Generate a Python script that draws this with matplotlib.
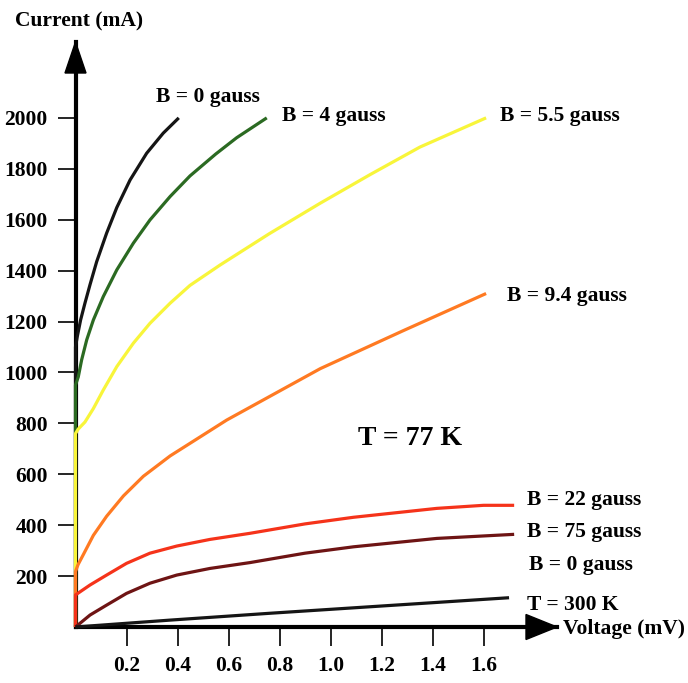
import numpy as np
import matplotlib
matplotlib.use("Agg")
import matplotlib.pyplot as plt
from matplotlib.patches import Polygon

# I-V curves (voltage in mV, current in mA)
black77_v = [0, 0, 0.007, 0.02, 0.037, 0.057, 0.083, 0.122, 0.162, 0.214, 0.279, 0.344, 0.405]
black77_i = [0, 1100, 1141, 1206, 1272, 1345, 1435, 1547, 1648, 1756, 1861, 1940, 2000]

green_v = [0, 0, 0.011, 0.024, 0.044, 0.07, 0.109, 0.162, 0.227, 0.292, 0.371, 0.449, 0.55, 0.632, 0.75]
green_i = [0, 950, 983, 1049, 1128, 1206, 1298, 1403, 1508, 1599, 1691, 1772, 1858, 1922, 2000]

yellow_v = [0, 0, 0.011, 0.037, 0.07, 0.109, 0.162, 0.227, 0.292, 0.371, 0.449, 0.567, 0.76, 0.96,
            1.155, 1.35, 1.61]
yellow_i = [0, 760, 778, 805, 858, 931, 1023, 1115, 1193, 1272, 1342, 1422, 1545, 1665,
            1777, 1885, 2000]

orange_v = [0, 0, 0.01, 0.031, 0.07, 0.122, 0.188, 0.266, 0.371, 0.475, 0.593, 0.96, 1.285, 1.61]
orange_i = [0, 218, 245, 285, 360, 435, 515, 592, 672, 738, 813, 1015, 1164, 1310]

red_v = [0, 0, 0.057, 0.122, 0.2, 0.292, 0.397, 0.527, 0.684, 0.9, 1.09, 1.417, 1.6, 1.72]
red_i = [0, 126, 165, 204, 250, 290, 318, 344, 368, 405, 431, 466, 478, 478]

dred_v = [0, 0.057, 0.122, 0.2, 0.292, 0.397, 0.527, 0.684, 0.9, 1.09, 1.417, 1.72]
dred_i = [0, 47, 86, 132, 172, 204, 230, 253, 290, 315, 348, 364]

k300_v = [0, 0.37, 0.763, 1.70]
k300_i = [0, 27, 54, 115]

xticks = [0.2, 0.4, 0.6, 0.8, 1.0, 1.2, 1.4, 1.6]
yticks = [200, 400, 600, 800, 1000, 1200, 1400, 1600, 1800, 2000]

plt.rcParams['font.family'] = ['Liberation Serif', 'DejaVu Serif']
plt.rcParams['font.weight'] = 'bold'

W, H = 688, 683
fig = plt.figure(figsize=(W / 100, H / 100), dpi=100, facecolor='white')

# origin at pixel (75.5, 627), arrow tips at x=557 and y=42
ax = fig.add_axes([75.5 / W, (H - 627) / H, (557 - 75.5) / W, (627 - 42) / H])
xmax, ymax = 1.888, 2298
ax.set_xlim(0, xmax)
ax.set_ylim(0, ymax)

for s in ['top', 'right']:
    ax.spines[s].set_visible(False)
for s in ['left', 'bottom']:
    ax.spines[s].set_linewidth(3)
    ax.spines[s].set_color('black')
    ax.spines[s].set_zorder(2)

ax.set_xticks(xticks)
ax.set_xticklabels(['%.1f' % v for v in xticks])
ax.set_yticks(yticks)
ax.tick_params(axis='x', direction='out', length=14, width=1.2, pad=7, labelsize=15.5)
ax.tick_params(axis='y', direction='out', length=13, width=1.2, pad=7, labelsize=15.5)
for lab in ax.get_xticklabels() + ax.get_yticklabels():
    lab.set_fontweight('bold')

curves = [
    (black77_v, black77_i, '#151515'),
    (green_v, green_i, '#2b6a22'),
    (yellow_v, yellow_i, '#f8f53a'),
    (orange_v, orange_i, '#ff7a22'),
    (red_v, red_i, '#f5331a'),
    (dred_v, dred_i, '#6e1414'),
    (k300_v, k300_i, '#151515'),
]
for v, i, c in curves:
    ax.plot(v, i, color=c, lw=2.3, solid_capstyle='butt', solid_joinstyle='round',
            clip_on=False, zorder=3)

# arrow heads (sizes in pixels converted to data units)
px_x = xmax / (557 - 75.5)
px_y = ymax / (627 - 42)
ax.add_patch(Polygon([[xmax, 0], [xmax - 31 * px_x, 12.5 * px_y], [xmax - 31 * px_x, -12.5 * px_y]],
                     closed=True, color='black', clip_on=False, zorder=4))
ax.add_patch(Polygon([[0, ymax], [-10.5 * px_x, ymax - 31 * px_y], [10.5 * px_x, ymax - 31 * px_y]],
                     closed=True, color='black', clip_on=False, zorder=4))

labels = [
    (0.317, 2063, 'B = 0 gauss'),
    (0.81, 1988, 'B = 4 gauss'),
    (1.665, 1988, 'B = 5.5 gauss'),
    (1.692, 1281, 'B = 9.4 gauss'),
    (1.771, 479, 'B = 22 gauss'),
    (1.771, 354, 'B = 75 gauss'),
    (1.778, 224, 'B = 0 gauss'),
    (1.771, 67, 'T = 300 K'),
]
for x, y, t in labels:
    ax.text(x, y, t, fontsize=15.5, fontweight='bold', ha='left', va='baseline', clip_on=False)

ax.text(1.108, 715, 'T = 77 K', fontsize=20, fontweight='bold', ha='left', va='baseline')
ax.text(1.912, -27, 'Voltage (mV)', fontsize=15.5, fontweight='bold', ha='left', va='baseline')
ax.text(-0.237, 2357, 'Current (mA)', fontsize=15.5, fontweight='bold', ha='left', va='baseline')

plt.savefig('out.png', dpi=100, facecolor='white')
plt.close()
